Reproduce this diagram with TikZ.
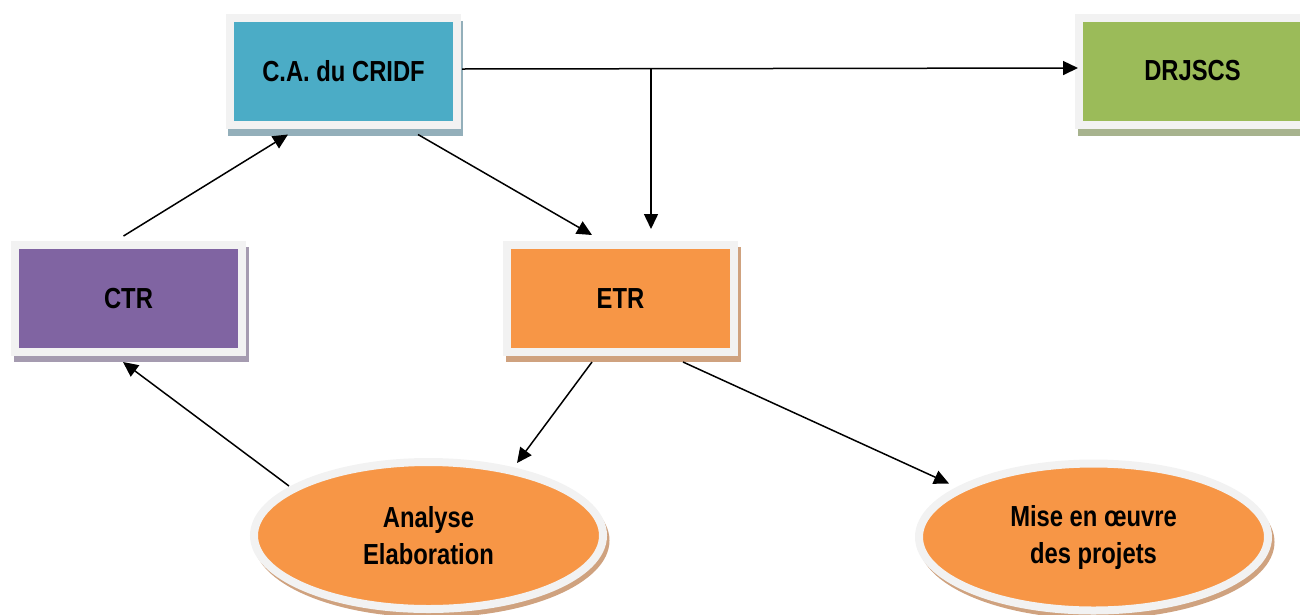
\documentclass[tikz,border=0pt]{standalone}
\usepackage{fontspec}
\setmainfont{Liberation Sans}[FakeStretch=0.82]
\usetikzlibrary{arrows.meta,shapes.geometric,backgrounds}
\definecolor{bordc}{HTML}{F2F2F2}
\definecolor{cacol}{HTML}{4BACC6}
\definecolor{cash}{HTML}{93AFBA}
\definecolor{drcol}{HTML}{9BBB59}
\definecolor{drsh}{HTML}{A7B38E}
\definecolor{ctrcol}{HTML}{8064A2}
\definecolor{ctrsh}{HTML}{A59BB0}
\definecolor{orcol}{HTML}{F79646}
\definecolor{orsh}{HTML}{CFA27F}
\tikzset{
  boxnode/.style={rectangle, draw=bordc, line width=8pt, minimum width=227pt, minimum height=107pt,
    inner sep=0pt, font=\fontsize{29}{37}\selectfont\bfseries, align=center},
  ellnode/.style={ellipse, draw=bordc, line width=8pt, minimum width=349pt, minimum height=147pt,
    inner sep=0pt, fill=orcol, font=\fontsize{29}{37}\selectfont\bfseries, align=center},
  conn/.style={line width=1.5pt, -{Triangle[length=15pt,width=14pt]}},
  plain/.style={line width=1.5pt}
}
\begin{document}
\begin{tikzpicture}[x=1pt,y=-1pt]
\useasboundingbox (0,0) rectangle (1300,614);
\node[boxnode, fill=cacol] (ca) at (343.5,71) {C.A. du CRIDF};
\node[boxnode, fill=drcol] (dr) at (1192.5,71) {DRJSCS};
\node[boxnode, fill=ctrcol] (ctr) at (128.5,298.5) {CTR};
\node[boxnode, fill=orcol] (etr) at (620.5,298.5) {ETR};
\node[ellnode] (an) at (428.5,535.5) {Analyse\\Elaboration};
\node[ellnode] (mi) at (1093.5,537) {Mise en œuvre\\des projets};
\begin{scope}[on background layer]
  \fill[cash] ([shift={(2,7)}]ca.south west) rectangle ([shift={(2,7)}]ca.north east);
  \fill[drsh] ([shift={(3,7)}]dr.south west) rectangle ([shift={(3,7)}]dr.north east);
  \fill[ctrsh] ([shift={(3,6)}]ctr.south west) rectangle ([shift={(3,6)}]ctr.north east);
  \fill[orsh] ([shift={(3,6)}]etr.south west) rectangle ([shift={(3,6)}]etr.north east);
  \fill[orsh] ([shift={(3,5)}]an.center) ellipse [x radius=178pt, y radius=77pt];
  \fill[orsh] ([shift={(3,5)}]mi.center) ellipse [x radius=178pt, y radius=77pt];
\end{scope}
\coordinate (br) at (651,69);
\draw[conn] ([shift={(-5,-5)}]ctr.north) -- ([shift={(-55.5,6)}]ca.south);
\draw[conn] ([shift={(74.5,6)}]ca.south) -- ([shift={(-28.5,-6)}]etr.north);
\draw[conn] ([shift={(1,-2)}]ca.east) -- ([shift={(3,-3)}]dr.west);
\draw[conn] (br) -- ([shift={(30.5,-12)}]etr.north);
\draw[conn] ([shift={(-28.5,6)}]etr.south) -- ([shift={(88.5,5)}]an.north);
\draw[conn] ([shift={(62.5,6)}]etr.south) -- ([shift={(-144.5,24)}]mi.north);
\draw[conn] ([shift={(-139.5,28)}]an.north) -- ([shift={(-5.5,6)}]ctr.south);
\end{tikzpicture}
\end{document}
